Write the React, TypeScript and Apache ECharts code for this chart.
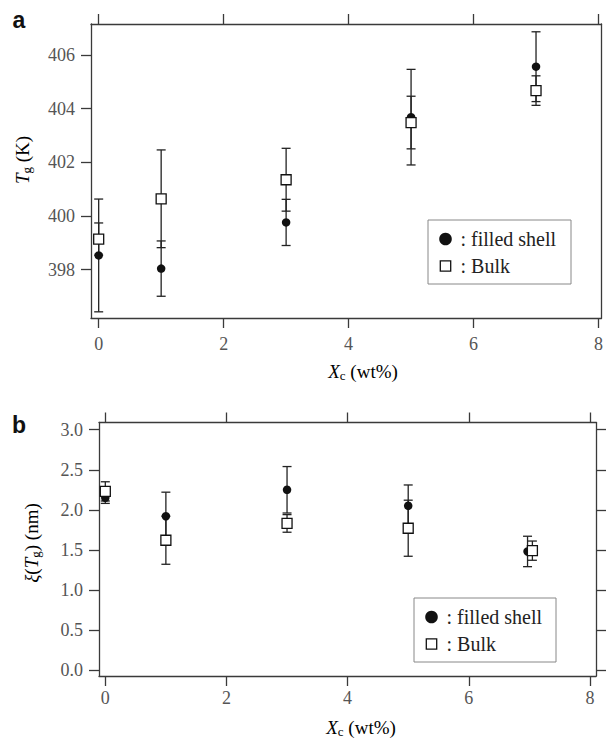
import React, { useEffect, useRef } from "react";
import * as echarts from "echarts";

// ---- data ----
const xValues = [0, 1, 3, 5, 7];

// panel a: Tg (K)
const filledTg = [398.53, 398.04, 399.76, 403.68, 405.56];
const filledTgErr = [2.1, 1.03, 0.86, 1.78, 1.3];
const bulkTg = [399.14, 400.64, 401.35, 403.48, 404.67];
const bulkTgErr = [0.6, 1.82, 1.17, 0.98, 0.55];

// panel b: xi(Tg) (nm)
const filledXiX = [0, 1, 3, 5, 6.97];
const filledXi = [2.15, 1.92, 2.25, 2.05, 1.48];
const filledXiErr = [0.07, 0.3, 0.29, 0.26, 0.19];
const bulkXiX = [0, 1, 3, 5, 7.05];
const bulkXi = [2.23, 1.62, 1.83, 1.77, 1.49];
const bulkXiErr = [0.12, 0.3, 0.11, 0.35, 0.12];

// tick labels
const xTickValues = [0, 2, 4, 6, 8];
const tgTickValues = [398, 400, 402, 404, 406];
const xiTickValues = [0, 0.5, 1, 1.5, 2, 2.5, 3];

const legendNames = [": filled shell", ": Bulk"];

const SERIF = "Liberation Serif";
const SANS = "Liberation Sans";
const AXIS_COLOR = "#3a3a3a";
const LABEL_COLOR = "#555";
const MARK = "#111";

function errRender(params: any, api: any) {
  const x = api.value(0);
  const y = api.value(1);
  const e = api.value(2);
  const p1 = api.coord([x, y + e]);
  const p2 = api.coord([x, y - e]);
  const w = 4.5;
  const style = { stroke: "#222", lineWidth: 1.3 };
  return {
    type: "group",
    children: [
      { type: "line", shape: { x1: p1[0], y1: p1[1], x2: p2[0], y2: p2[1] }, style },
      { type: "line", shape: { x1: p1[0] - w, y1: p1[1], x2: p1[0] + w, y2: p1[1] }, style },
      { type: "line", shape: { x1: p2[0] - w, y1: p2[1], x2: p2[0] + w, y2: p2[1] }, style },
    ],
  };
}

function xAxisDef(grid: number, min: number, max: number, pos: "bottom" | "top", labels: boolean, margin: number) {
  return {
    type: "value",
    gridIndex: grid,
    position: pos,
    min,
    max,
    splitLine: { show: false },
    axisLine: { show: true, onZero: false, lineStyle: { color: AXIS_COLOR, width: 1.3 } },
    axisTick: { show: true, inside: false, length: 10, customValues: xTickValues, lineStyle: { color: AXIS_COLOR, width: 1.3 } },
    axisLabel: {
      show: labels,
      customValues: xTickValues,
      margin,
      color: LABEL_COLOR,
      fontFamily: SERIF,
      fontSize: 18,
    },
  };
}

function yAxisDef(grid: number, min: number, max: number, pos: "left" | "right", ticks: number[] | null, labels: boolean, fmt?: (v: number) => string) {
  return {
    type: "value",
    gridIndex: grid,
    position: pos,
    min,
    max,
    splitLine: { show: false },
    axisLine: { show: true, onZero: false, lineStyle: { color: AXIS_COLOR, width: 1.3 } },
    axisTick: ticks
      ? { show: true, inside: false, length: 10, customValues: ticks, lineStyle: { color: AXIS_COLOR, width: 1.3 } }
      : { show: false },
    axisLabel: ticks && labels
      ? { show: true, customValues: ticks, margin: 16, color: LABEL_COLOR, fontFamily: SERIF, fontSize: 18, formatter: fmt }
      : { show: false },
  };
}

function legendGraphic(left: number, top: number, w: number, h: number) {
  const cx = left + 17.5;
  const y1 = top + 19;
  const y2 = top + 46;
  const txt = (t: string, y: number) => ({
    type: "text",
    x: cx + 15,
    y,
    style: { text: t, fontFamily: SERIF, fontSize: 20, fill: "#222", verticalAlign: "middle", align: "left" },
    z: 11,
  });
  return [
    {
      type: "rect",
      shape: { x: left, y: top, width: w, height: h },
      style: { fill: "#fff", stroke: "#888", lineWidth: 1 },
      z: 10,
    },
    { type: "circle", shape: { cx, cy: y1, r: 6.3 }, style: { fill: MARK }, z: 11 },
    {
      type: "rect",
      shape: { x: cx - 5.2, y: y2 - 5.2, width: 10.4, height: 10.4 },
      style: { fill: "#fff", stroke: MARK, lineWidth: 1.3 },
      z: 11,
    },
    txt(legendNames[0], y1),
    txt(legendNames[1], y2),
  ];
}

const richTitle = {
  i: { fontFamily: SERIF, fontStyle: "italic", fontSize: 19, color: "#444" },
  s: { fontFamily: SERIF, fontSize: 13, color: "#444", padding: [9, 0, 0, 0] },
  n: { fontFamily: SERIF, fontSize: 19, color: "#444" },
};

function titleText(x: number, y: number, text: string, rotated: boolean) {
  return {
    type: "text",
    x,
    y,
    rotation: rotated ? Math.PI / 2 : 0,
    style: { text, rich: richTitle, fontFamily: SERIF, align: "center", verticalAlign: "middle" },
  };
}

export default function App() {
  const ref = useRef<HTMLDivElement>(null);

  useEffect(() => {
    document.body.style.margin = "0";
    if (!ref.current) return;
    const chart = echarts.init(ref.current, null, { renderer: "svg" });

    const option: any = {
      animation: false,
      backgroundColor: "#fff",
      textStyle: { fontFamily: SERIF },
      grid: [
        { left: 91, top: 24, width: 512, height: 294 },
        { left: 99, top: 422.5, width: 497, height: 253.5 },
      ],
      xAxis: [
        xAxisDef(0, -0.123, 8.048, "bottom", true, 17),
        xAxisDef(0, -0.123, 8.048, "top", false, 8),
        xAxisDef(1, -0.104, 8.1, "bottom", true, 13),
        xAxisDef(1, -0.104, 8.1, "top", false, 8),
      ],
      yAxis: [
        yAxisDef(0, 396.2, 407.15, "left", tgTickValues, true),
        yAxisDef(0, 396.2, 407.15, "right", null, false),
        yAxisDef(1, -0.075, 3.09, "left", xiTickValues, true, (v: number) => v.toFixed(1)),
        yAxisDef(1, -0.075, 3.09, "right", xiTickValues, false),
      ],
      series: [
        // panel a error bars
        {
          type: "custom",
          xAxisIndex: 0,
          yAxisIndex: 0,
          renderItem: errRender,
          encode: { x: 0, y: 1 },
          data: xValues.map((x, i) => [x, filledTg[i], filledTgErr[i]]),
          z: 1,
        },
        {
          type: "custom",
          xAxisIndex: 0,
          yAxisIndex: 0,
          renderItem: errRender,
          encode: { x: 0, y: 1 },
          data: xValues.map((x, i) => [x, bulkTg[i], bulkTgErr[i]]),
          z: 1,
        },
        {
          name: legendNames[0],
          type: "scatter",
          xAxisIndex: 0,
          yAxisIndex: 0,
          symbol: "circle",
          symbolSize: 8.5,
          itemStyle: { color: MARK, opacity: 1 },
          data: xValues.map((x, i) => [x, filledTg[i]]),
          z: 2,
        },
        {
          name: legendNames[1],
          type: "scatter",
          xAxisIndex: 0,
          yAxisIndex: 0,
          symbol: "rect",
          symbolSize: 10,
          itemStyle: { color: "#fff", borderColor: MARK, borderWidth: 1.3, opacity: 1 },
          data: xValues.map((x, i) => [x, bulkTg[i]]),
          z: 3,
        },
        // panel b
        {
          type: "custom",
          xAxisIndex: 2,
          yAxisIndex: 2,
          renderItem: errRender,
          encode: { x: 0, y: 1 },
          data: filledXiX.map((x, i) => [x, filledXi[i], filledXiErr[i]]),
          z: 1,
        },
        {
          type: "custom",
          xAxisIndex: 2,
          yAxisIndex: 2,
          renderItem: errRender,
          encode: { x: 0, y: 1 },
          data: bulkXiX.map((x, i) => [x, bulkXi[i], bulkXiErr[i]]),
          z: 1,
        },
        {
          name: legendNames[0],
          type: "scatter",
          xAxisIndex: 2,
          yAxisIndex: 2,
          symbol: "circle",
          symbolSize: 8.5,
          itemStyle: { color: MARK, opacity: 1 },
          data: filledXiX.map((x, i) => [x, filledXi[i]]),
          z: 2,
        },
        {
          name: legendNames[1],
          type: "scatter",
          xAxisIndex: 2,
          yAxisIndex: 2,
          symbol: "rect",
          symbolSize: 10,
          itemStyle: { color: "#fff", borderColor: MARK, borderWidth: 1.3, opacity: 1 },
          data: bulkXiX.map((x, i) => [x, bulkXi[i]]),
          z: 3,
        },
      ],
      graphic: [
        {
          type: "text",
          x: 19,
          y: 20,
          style: { text: "a", fontFamily: SANS, fontWeight: "bold", fontSize: 23, fill: "#111", align: "center", verticalAlign: "middle" },
        },
        {
          type: "text",
          x: 19,
          y: 425,
          style: { text: "b", fontFamily: SANS, fontWeight: "bold", fontSize: 23, fill: "#111", align: "center", verticalAlign: "middle" },
        },
        titleText(22, 160, "{i|T}{s|g}{n| (K)}", true),
        titleText(31, 543, "{i|ξ}{n|(}{i|T}{s|g}{n|) (nm)}", true),
        titleText(363, 371, "{i|X}{s|c}{n| (wt%)}", false),
        titleText(361, 727, "{i|X}{s|c}{n| (wt%)}", false),
        ...legendGraphic(428, 220, 143, 64),
        ...legendGraphic(414, 598, 142, 64),
      ],
    };

    chart.setOption(option);
    return () => {
      chart.dispose();
    };
  }, []);

  return <div ref={ref} style={{ width: 606, height: 744 }} />;
}
